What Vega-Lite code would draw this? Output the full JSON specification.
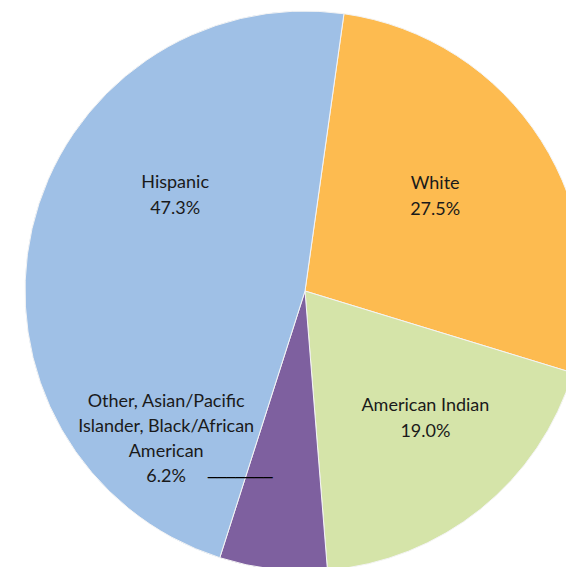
{
  "$schema": "https://vega.github.io/schema/vega-lite/v6.json",
  "width": 610,
  "height": 582,
  "autosize": {"type": "none"},
  "padding": 0,
  "background": "white",
  "config": {"view": {"stroke": null}},
  "data": {
    "values": [
      {"group": "White", "share": 27.5, "ord": 1, "label": ["White", "27.5%"]},
      {"group": "American Indian", "share": 19.0, "ord": 2, "label": ["American Indian", "19.0%"]},
      {"group": "Other, Asian/Pacific Islander, Black/African American", "share": 6.2, "ord": 3, "label": ["Other, Asian/Pacific", "Islander, Black/African", "American", "6.2%"]},
      {"group": "Hispanic", "share": 47.3, "ord": 4, "label": ["Hispanic", "47.3%"]}
    ]
  },
  "encoding": {
    "theta": {"field": "share", "type": "quantitative", "stack": true, "scale": {"range": [0.1396, 6.4228]}},
    "order": {"field": "ord", "type": "quantitative"}
  },
  "layer": [
    {
      "mark": {"type": "arc", "outerRadius": 280, "stroke": "#f4f4f4", "strokeWidth": 1},
      "encoding": {
        "color": {
          "field": "group",
          "type": "nominal",
          "legend": null,
          "scale": {
            "domain": ["White", "American Indian", "Other, Asian/Pacific Islander, Black/African American", "Hispanic"],
            "range": ["#fdbb50", "#d5e4a9", "#7e609f", "#9fc0e6"]
          }
        }
      }
    },
    {
      "mark": {"type": "text", "radius": 165, "font": "Lato", "fontSize": 18, "lineHeight": 26, "color": "#1a1a1a", "align": "center", "baseline": "middle", "dx": 31, "dy": -71},
      "encoding": {"text": {"condition": {"test": "datum.group === 'Hispanic'", "field": "label"}, "value": ""}}
    },
    {
      "mark": {"type": "text", "radius": 165, "font": "Lato", "fontSize": 18, "lineHeight": 26, "color": "#1a1a1a", "align": "center", "baseline": "middle", "dx": -9, "dy": -18},
      "encoding": {"text": {"condition": {"test": "datum.group === 'White'", "field": "label"}, "value": ""}}
    },
    {
      "mark": {"type": "text", "radius": 165, "font": "Lato", "fontSize": 18, "lineHeight": 26, "color": "#1a1a1a", "align": "center", "baseline": "middle", "dx": 17, "dy": -14},
      "encoding": {"text": {"condition": {"test": "datum.group === 'American Indian'", "field": "label"}, "value": ""}}
    },
    {
      "mark": {"type": "text", "radius": 165, "font": "Lato", "fontSize": 18, "lineHeight": 25, "color": "#1a1a1a", "align": "center", "baseline": "middle", "dx": -120, "dy": -53},
      "encoding": {"text": {"condition": {"test": "datum.ord === 3", "field": "label"}, "value": ""}}
    },
    {
      "mark": {"type": "text", "radius": 165, "font": "DejaVu Sans", "fontSize": 15.4, "color": "#000000", "align": "center", "baseline": "middle", "dx": -46, "dy": 23},
      "encoding": {"text": {"condition": {"test": "datum.ord === 3", "value": "───────"}, "value": ""}}
    }
  ]
}
